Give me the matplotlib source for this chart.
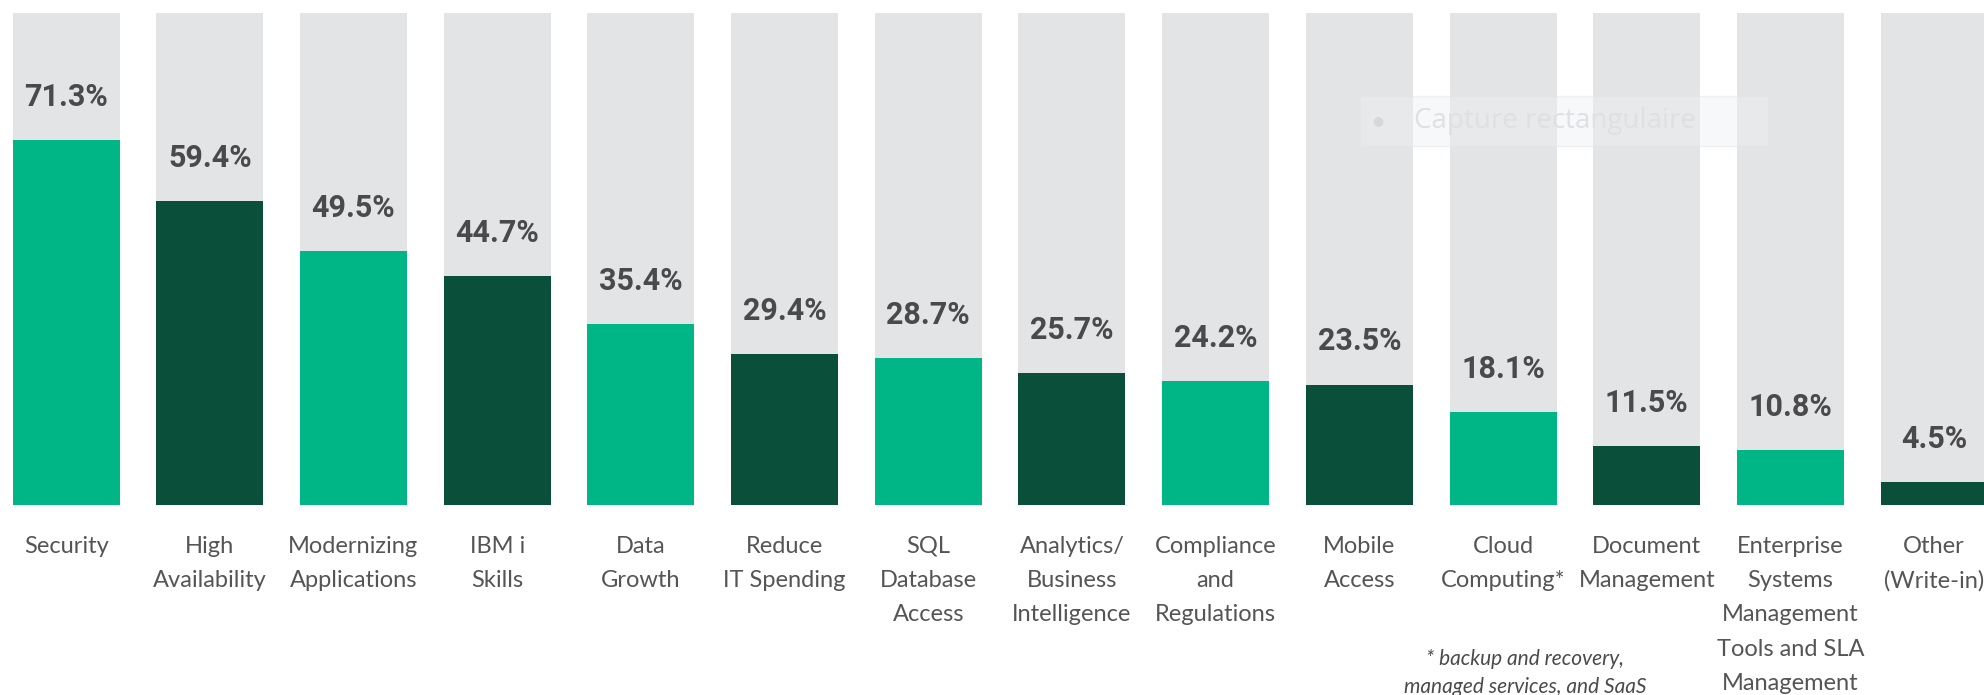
import matplotlib
matplotlib.use("Agg")
import matplotlib.pyplot as plt
from matplotlib.patches import FancyBboxPatch

# data
categories = [
    "Security", "High\nAvailability", "Modernizing\nApplications", "IBM i\nSkills",
    "Data\nGrowth", "Reduce\nIT Spending", "SQL\nDatabase\nAccess",
    "Analytics/\nBusiness\nIntelligence", "Compliance\nand\nRegulations",
    "Mobile\nAccess", "Cloud\nComputing*", "Document\nManagement",
    "Enterprise\nSystems\nManagement\nTools and SLA\nManagement",
    "Other\n(Write-in)",
]
values = [71.3, 59.4, 49.5, 44.7, 35.4, 29.4, 28.7, 25.7, 24.2, 23.5, 18.1, 11.5, 10.8, 4.5]
footnote = "* backup and recovery,\nmanaged services, and SaaS"

LIGHT = "#00b586"
DARK = "#0a4f3a"
BG = "#e3e4e6"
GRAY_TOP = 96

label_font = ["Lato", "DejaVu Sans"]

fig = plt.figure(figsize=(19.84, 6.95), dpi=100)
ax = fig.add_axes([0, 0.2734, 1, 0.7079])

x = list(range(len(values)))
colors = [LIGHT if i % 2 == 0 else DARK for i in x]

ax.bar(x, [GRAY_TOP] * len(x), width=0.745, color=BG, zorder=1)
ax.bar(x, values, width=0.745, color=colors, zorder=2)

for xi, v in zip(x, values):
    ax.annotate(f"{v}%", (xi, v), xytext=(0, 31), textcoords="offset points",
                ha="center", va="center", fontsize=22, fontweight="bold",
                color="#4a4a4c", family=["Roboto", "DejaVu Sans"])

ax.set_xlim(-0.46, 13.347)
ax.set_ylim(0, GRAY_TOP)
ax.set_xticks(x)
ax.set_xticklabels(categories, linespacing=1.79, fontsize=17, color="#555555",
                   family=label_font, va="top")
ax.tick_params(axis="x", length=0, pad=22)
ax.set_yticks([])
for s in ax.spines.values():
    s.set_visible(False)

fig.text(0.7686, 0.031, footnote, ha="center", va="center", fontsize=15,
         style="italic", color="#4a4a4a", family=label_font, linespacing=1.5)

# faint screen-capture overlay visible in the reference
box = FancyBboxPatch((1360 / 1984, 1 - 146 / 695), 408 / 1984, 50 / 695,
                     boxstyle="square,pad=0", transform=fig.transFigure,
                     facecolor="#eef0f3", edgecolor="#e2e4e8", alpha=0.45,
                     linewidth=1, zorder=5)
fig.add_artist(box)
fig.text(1378 / 1984, 1 - 121 / 695, "\u25CF", ha="center", va="center",
         fontsize=9, color="#d6d8db", zorder=6)
fig.text(1414 / 1984, 1 - 121 / 695, "Capture rectangulaire", ha="left", va="center",
         fontsize=20, color="#dfe0e3", zorder=6, family=["Open Sans", "DejaVu Sans"])

fig.savefig("out.png", dpi=100)
